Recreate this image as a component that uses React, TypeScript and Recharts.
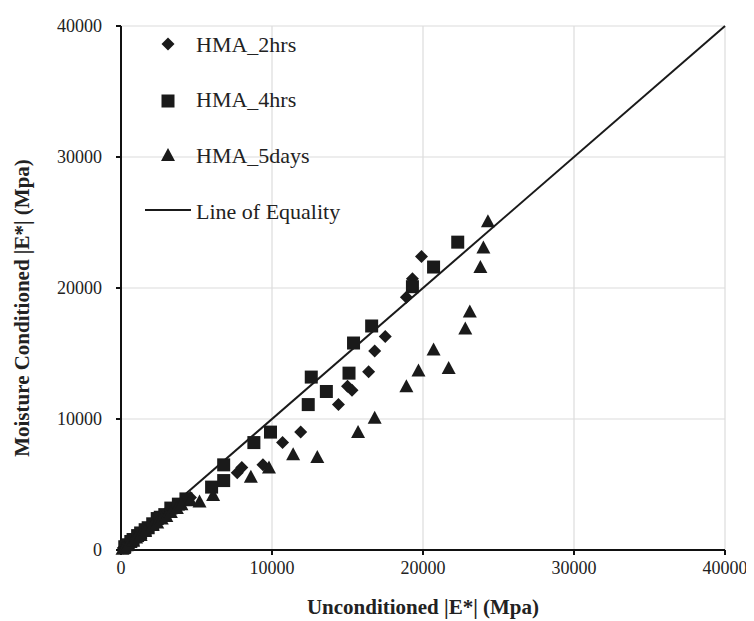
import { ScatterChart, Scatter, XAxis, YAxis, CartesianGrid, ReferenceLine } from "recharts";

// unconditioned |E*| (x) vs moisture conditioned |E*| (y), MPa
const hma2hrsX = [150, 300, 500, 600, 900, 1000, 1200, 1500, 1700, 1900, 2100, 2300, 2500, 2700, 2900, 3100, 3400, 3600, 4200, 4600, 7700, 8000, 9400, 10700, 11900, 14400, 15000, 15300, 16400, 16800, 17500, 18900, 19300, 19900];
const hma2hrsY = [150, 300, 450, 650, 900, 1050, 1150, 1500, 1600, 1800, 2050, 2200, 2400, 2500, 2750, 2900, 3100, 3300, 3800, 4000, 5900, 6300, 6500, 8200, 9000, 11100, 12500, 12200, 13600, 15200, 16300, 19300, 20700, 22400];

const hma4hrsX = [250, 400, 650, 800, 1100, 1300, 1600, 1800, 2100, 2400, 2600, 2900, 3300, 3800, 4300, 6000, 6800, 6800, 8800, 9900, 12400, 12600, 13600, 15100, 15400, 16600, 19300, 20700, 22300];
const hma4hrsY = [250, 400, 650, 800, 1100, 1300, 1550, 1700, 2000, 2400, 2500, 2700, 3200, 3500, 3900, 4800, 5300, 6500, 8200, 9000, 11100, 13200, 12100, 13500, 15800, 17100, 20100, 21600, 23500];

const hma5daysX = [100, 200, 500, 800, 1000, 1300, 1600, 2100, 2400, 2700, 3000, 3300, 3700, 4000, 4600, 5200, 6100, 8600, 9800, 11400, 13000, 15700, 16800, 18900, 19700, 21700, 20700, 22800, 23100, 23800, 24000, 24300];
const hma5daysY = [100, 150, 450, 700, 950, 1150, 1450, 1900, 2100, 2400, 2600, 2900, 3200, 3500, 3800, 3700, 4200, 5600, 6300, 7300, 7100, 9000, 10100, 12500, 13700, 13900, 15300, 16900, 18200, 21600, 23100, 25100];

const axisTicks = [0, 10000, 20000, 30000, 40000];

const toPoints = (xs: number[], ys: number[]) => xs.map((x, i) => ({ x, y: ys[i] }));

const INK = "#1a1a1a";
const FONT = "'Liberation Serif', 'Times New Roman', serif";

const Diamond = ({ cx, cy }: any) => (
  <polygon points={`${cx},${cy - 6.5} ${cx + 6.5},${cy} ${cx},${cy + 6.5} ${cx - 6.5},${cy}`} fill={INK} />
);
const Square = ({ cx, cy }: any) => <rect x={cx - 6.5} y={cy - 6.5} width={13} height={13} fill={INK} />;
const Triangle = ({ cx, cy }: any) => (
  <polygon points={`${cx},${cy - 7} ${cx + 7},${cy + 6} ${cx - 7},${cy + 6}`} fill={INK} />
);

const YTitle = ({ viewBox }: any) => (
  <text
    x={14}
    y={viewBox.y + viewBox.height / 2 + 20}
    transform={`rotate(-90, 14, ${viewBox.y + viewBox.height / 2 + 20})`}
    textAnchor="middle"
    dominantBaseline="central"
    fontFamily={FONT}
    fontWeight="bold"
    fontSize={21}
    fill="#222"
  >
    Moisture Conditioned |E*| (Mpa)
  </text>
);

function LegendBox() {
  const rows = ["HMA_2hrs", "HMA_4hrs", "HMA_5days", "Line of Equality"];
  const rowY = [36, 91, 147, 203];
  return (
    <svg width={400} height={230} style={{ position: "absolute", left: 0, top: 0 }}>
      <Diamond cx={160} cy={rowY[0]} />
      <Square cx={160} cy={rowY[1] + 2} />
      <Triangle cx={160} cy={rowY[2]} />
      <line x1={137} x2={183} y1={rowY[3] - 1} y2={rowY[3] - 1} stroke={INK} strokeWidth={2} />
      {rows.map((r, i) => (
        <text key={r} x={188} y={rowY[i] + 7.5} fontFamily={FONT} fontSize={22} fill="#222">
          {r}
        </text>
      ))}
    </svg>
  );
}

export default function App() {
  const tickStyle = { fontFamily: FONT, fontSize: 18, fill: "#222" };
  return (
    <div style={{ position: "relative", width: 746, height: 613 }}>
      <ScatterChart width={746} height={613} margin={{ top: 18, right: 29, bottom: 7, left: 53 }}>
        <CartesianGrid stroke="#dcdcdc" strokeWidth={1.2} />
        <XAxis
          type="number"
          dataKey="x"
          domain={[0, 40000]}
          ticks={axisTicks}
          height={64}
          tick={tickStyle}
          tickSize={5}
          tickMargin={6}
          stroke="#111"
          strokeWidth={2}
          label={{
            value: "Unconditioned |E*| (Mpa)",
            position: "insideBottom",
            offset: 0,
            style: { fontFamily: FONT, fontWeight: "bold", fontSize: 21, fill: "#222" },
          }}
        />
        <YAxis
          type="number"
          dataKey="y"
          domain={[0, 40000]}
          ticks={axisTicks}
          width={60}
          tick={tickStyle}
          tickSize={5}
          tickMargin={14}
          stroke="#111"
          strokeWidth={2}
          label={<YTitle />}
        />
        <ReferenceLine
          segment={[{ x: 0, y: 0 }, { x: 40000, y: 40000 }]}
          stroke={INK}
          strokeWidth={2}
        />
        <Scatter name="HMA_2hrs" data={toPoints(hma2hrsX, hma2hrsY)} shape={<Diamond />} isAnimationActive={false} />
        <Scatter name="HMA_4hrs" data={toPoints(hma4hrsX, hma4hrsY)} shape={<Square />} isAnimationActive={false} />
        <Scatter name="HMA_5days" data={toPoints(hma5daysX, hma5daysY)} shape={<Triangle />} isAnimationActive={false} />
      </ScatterChart>
      <LegendBox />
    </div>
  );
}
